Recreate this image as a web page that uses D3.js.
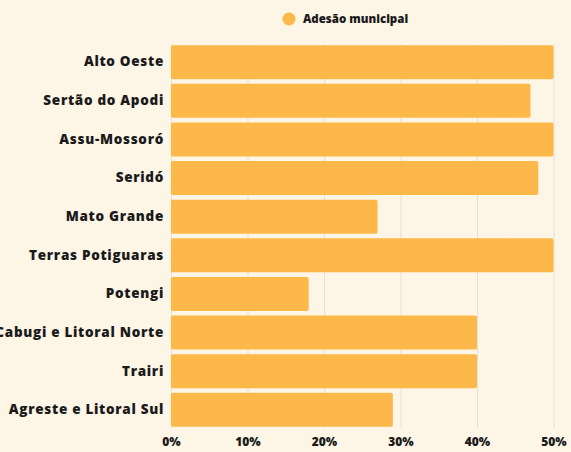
<!DOCTYPE html>
<html>
<head>
<meta charset="utf-8">
<script src="https://cdn.jsdelivr.net/npm/d3@7"></script>
<style>
  html, body { margin: 0; padding: 0; background: #fdf5e6; }
  svg { display: block; }
</style>
</head>
<body>
<div id="chart"></div>
<script>
// Data
const regions = [
  "Alto Oeste",
  "Sertão do Apodi",
  "Assu-Mossoró",
  "Seridó",
  "Mato Grande",
  "Terras Potiguaras",
  "Potengi",
  "Cabugi e Litoral Norte",
  "Trairi",
  "Agreste e Litoral Sul",
];
const adesao = [50, 47, 50, 48, 27, 50, 18, 40, 40, 29];
const xTicks = [0, 10, 20, 30, 40, 50];
const seriesName = "Adesão municipal";

const width = 571;
const height = 452;
const margin = { top: 44, right: 18, bottom: 24, left: 171 };
const barColor = "#fdb84a";
const font = "'Open Sans', 'DejaVu Sans', sans-serif";

const data = regions.map((r, i) => ({ region: r, value: adesao[i] }));

const x = d3.scaleLinear().domain([0, 50]).range([margin.left, 553.5]);
const y = d3.scaleBand()
  .domain(regions)
  .range([margin.top, height - margin.bottom])
  .paddingInner(0.12)
  .paddingOuter(0.03);

const svg = d3.select("#chart").append("svg")
  .attr("width", width)
  .attr("height", height)
  .style("font-family", font);

svg.append("rect").attr("width", width).attr("height", height).attr("fill", "#fdf5e6");

// gridlines
svg.append("g")
  .selectAll("line")
  .data(xTicks)
  .join("line")
  .attr("x1", (d) => x(d) + 0.5)
  .attr("x2", (d) => x(d) + 0.5)
  .attr("y1", margin.top)
  .attr("y2", height - margin.bottom)
  .attr("stroke", "#e6e0d4")
  .attr("stroke-width", 1);

// bars
svg.append("g")
  .selectAll("rect")
  .data(data)
  .join("rect")
  .attr("x", x(0))
  .attr("y", (d) => y(d.region))
  .attr("width", (d) => x(d.value) - x(0))
  .attr("height", y.bandwidth())
  .attr("rx", 2)
  .attr("fill", barColor);

// y labels
svg.append("g")
  .attr("transform", `translate(${margin.left - 7},0)`)
  .call(d3.axisLeft(y).tickSize(0).tickPadding(0))
  .call((g) => g.select(".domain").remove())
  .call((g) => g.selectAll("text")
    .attr("font-family", font)
    .attr("font-size", 13.5)
    .attr("font-weight", 800)
    .attr("letter-spacing", 0.7)
    .attr("fill", "#1a1a1a"));

// x labels
svg.append("g")
  .attr("transform", `translate(0,${height - margin.bottom})`)
  .call(d3.axisBottom(x).tickValues(xTicks).tickFormat((d) => `${d}%`).tickSize(0).tickPadding(9))
  .call((g) => g.select(".domain").remove())
  .call((g) => g.selectAll("text")
    .attr("font-family", font)
    .attr("font-size", 12)
    .attr("font-weight", 800)
    .attr("fill", "#1a1a1a"));

// legend
const lg = svg.append("g").attr("transform", "translate(289,19)");
lg.append("circle").attr("r", 6.5).attr("fill", barColor);
lg.append("text")
  .attr("x", 14)
  .attr("dy", "0.35em")
  .attr("font-size", 11.5)
  .attr("font-weight", 800)
  .attr("fill", "#1a1a1a")
  .text(seriesName);
</script>
</body>
</html>
